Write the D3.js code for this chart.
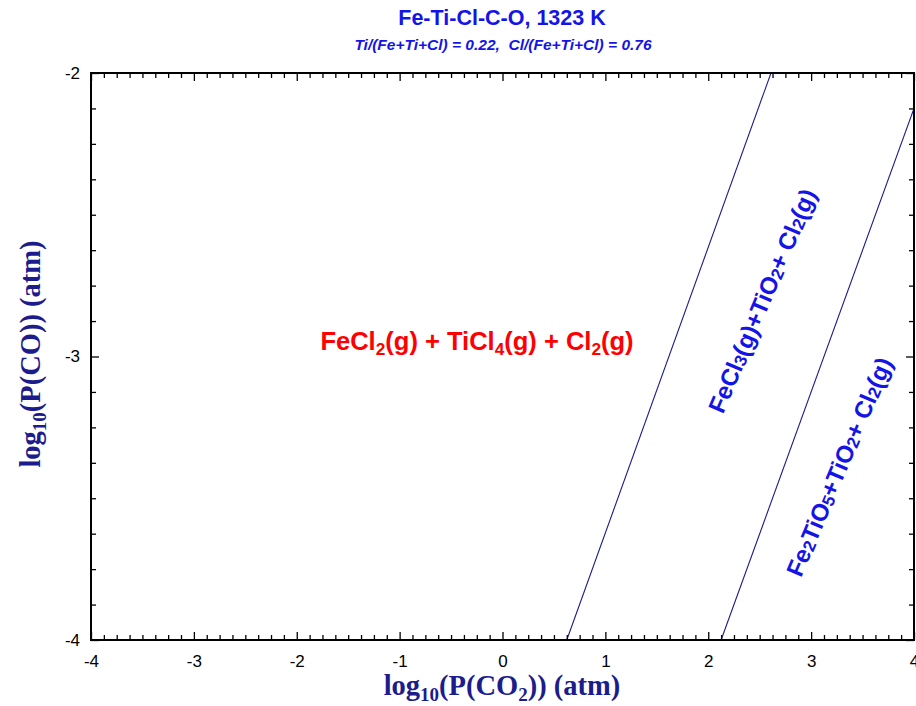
<!DOCTYPE html>
<html><head><meta charset="utf-8">
<script src="https://cdn.jsdelivr.net/npm/d3@7"></script>
<style>body{margin:0;background:#fff}svg{display:block}</style>
</head><body>
<script>
// ---- data ----
const xDomain = [-4, 4];
const yDomain = [-4, -2];
const xTickValues = [-4, -3, -2, -1, 0, 1, 2, 3, 4];
const yTickValues = [-4, -3, -2];
// phase boundaries (log P(CO2), log P(CO))
const boundary1 = [[0.625, -4], [2.61, -2]];
const boundary2 = [[2.125, -4], [4, -2.125]];
const titleText = "Fe-Ti-Cl-C-O, 1323 K";
const subtitleText = "Ti/(Fe+Ti+Cl) = 0.22,\u00A0 Cl/(Fe+Ti+Cl) = 0.76";

const W = 916, H = 706;
const m = {left: 91, right: 916 - 914, top: 73, bottom: 706 - 640};
const svg = d3.select("body").append("svg").attr("width", W).attr("height", H);
svg.append("rect").attr("width", W).attr("height", H).attr("fill", "#fff");

const x = d3.scaleLinear().domain(xDomain).range([m.left, W - m.right]);
const y = d3.scaleLinear().domain(yDomain).range([H - m.bottom, m.top]);

const minorX = d3.range(xDomain[0], xDomain[1] + 1e-9, 0.125);
const minorY = d3.range(yDomain[0], yDomain[1] + 1e-9, 0.125);
const isMajor = v => Math.abs(v - Math.round(v)) < 1e-9;
const fmt = d => String(d);

// clip
svg.append("clipPath").attr("id", "clip").append("rect")
  .attr("x", x(xDomain[0])).attr("y", y(yDomain[1]))
  .attr("width", x(xDomain[1]) - x(xDomain[0])).attr("height", y(yDomain[0]) - y(yDomain[1]));

const line = d3.line().x(d => x(d[0])).y(d => y(d[1]));
const g = svg.append("g").attr("clip-path", "url(#clip)");
[boundary1, boundary2].forEach(b => {
  g.append("path").attr("d", line(b)).attr("fill", "none").attr("stroke", "#1a1a8a").attr("stroke-width", 1.1);
});

const tickFont = "Liberation Sans, Arial, sans-serif";
const tickSize = 17;
// bottom
const axBm = svg.append("g").attr("transform", `translate(0,${y(yDomain[0])})`)
  .call(d3.axisBottom(x).tickValues(minorX).tickSize(0).tickFormat(""));
axBm.select(".domain").remove(); axBm.selectAll("text").remove();
axBm.selectAll(".tick").append("line").attr("y2", d => isMajor(d) ? -8 : -5).attr("stroke", "#000").attr("stroke-width", 1.3);
const axB = svg.append("g").attr("transform", `translate(0,${y(yDomain[0])})`)
  .call(d3.axisBottom(x).tickValues(xTickValues).tickSize(0).tickFormat(fmt));
axB.select(".domain").remove();
axB.selectAll(".tick text").attr("dy", 0).attr("y", 27).attr("font-family", tickFont).attr("font-size", tickSize).attr("fill", "#000");
// top
const axT = svg.append("g").attr("transform", `translate(0,${y(yDomain[1])})`)
  .call(d3.axisTop(x).tickValues(minorX).tickSize(0).tickFormat(""));
axT.select(".domain").remove(); axT.selectAll("text").remove();
axT.selectAll(".tick").append("line").attr("y2", d => isMajor(d) ? 8 : 5).attr("stroke", "#000").attr("stroke-width", 1.3);
// left
const axLm = svg.append("g").attr("transform", `translate(${x(xDomain[0])},0)`)
  .call(d3.axisLeft(y).tickValues(minorY).tickSize(0).tickFormat(""));
axLm.select(".domain").remove(); axLm.selectAll("text").remove();
axLm.selectAll(".tick").append("line").attr("x2", d => isMajor(d) ? 8 : 5).attr("stroke", "#000").attr("stroke-width", 1.3);
const axL = svg.append("g").attr("transform", `translate(${x(xDomain[0])},0)`)
  .call(d3.axisLeft(y).tickValues(yTickValues).tickSize(0).tickFormat(fmt));
axL.select(".domain").remove();
axL.selectAll(".tick text").attr("x", -11).attr("dy", "0.3em").attr("font-family", tickFont).attr("font-size", tickSize).attr("fill", "#000");
// right
const axR = svg.append("g").attr("transform", `translate(${x(xDomain[1])},0)`)
  .call(d3.axisRight(y).tickValues(minorY).tickSize(0).tickFormat(""));
axR.select(".domain").remove(); axR.selectAll("text").remove();
axR.selectAll(".tick").append("line").attr("x2", d => isMajor(d) ? -8 : -5).attr("stroke", "#000").attr("stroke-width", 1.3);

// frame
svg.append("rect").attr("x", x(xDomain[0])).attr("y", y(yDomain[1]))
  .attr("width", x(xDomain[1]) - x(xDomain[0])).attr("height", y(yDomain[0]) - y(yDomain[1]))
  .attr("fill", "none").attr("stroke", "#000").attr("stroke-width", 2);

// titles
svg.append("text").attr("x", 502).attr("y", 25).attr("text-anchor", "middle")
  .attr("font-family", "Liberation Sans, Arial, sans-serif").attr("font-weight", "bold").attr("font-size", 21.5)
  .attr("fill", "#1414e6").text(titleText);
svg.append("text").attr("x", 503).attr("y", 50).attr("text-anchor", "middle")
  .attr("font-family", "Liberation Sans, Arial, sans-serif").attr("font-weight", "bold").attr("font-style", "italic").attr("font-size", 15.5)
  .attr("fill", "#1414e6").text(subtitleText);

// axis titles
const axisColor = "#1c1c8c";
const xt = svg.append("text").attr("x", 502).attr("y", 695).attr("text-anchor", "middle")
  .attr("font-family", "Liberation Serif, Times New Roman, serif").attr("font-weight", "bold").attr("font-size", 28.5).attr("fill", axisColor);
xt.append("tspan").text("log");
xt.append("tspan").attr("font-size", 19).attr("dy", 6).text("10");
xt.append("tspan").attr("dy", -6).text("(P(CO");
xt.append("tspan").attr("font-size", 19).attr("dy", 6).text("2");
xt.append("tspan").attr("dy", -6).text(")) (atm)");

const yt = svg.append("text").attr("transform", "translate(40,354) rotate(-90)").attr("text-anchor", "middle")
  .attr("font-family", "Liberation Serif, Times New Roman, serif").attr("font-weight", "bold").attr("font-size", 28.5).attr("fill", axisColor);
yt.append("tspan").text("log");
yt.append("tspan").attr("font-size", 19).attr("dy", 6).text("10");
yt.append("tspan").attr("dy", -6).text("(P(CO)) (atm)");

// region labels
function richLabel(parts, opts) {
  const t = svg.append("text").attr("text-anchor", "middle")
    .attr("font-family", "Liberation Sans, Arial, sans-serif").attr("font-weight", "bold")
    .attr("font-size", opts.size).attr("fill", opts.color)
    .attr("transform", `translate(${opts.x},${opts.y}) rotate(${opts.rot || 0})`);
  let lowered = false;
  parts.forEach(p => {
    if (p.sub) {
      t.append("tspan").attr("font-size", opts.size * opts.subScale).attr("dy", lowered ? 0 : opts.subDy).text(p.sub);
      lowered = true;
    } else {
      t.append("tspan").attr("dy", lowered ? -opts.subDy : 0).text(p.t);
      lowered = false;
    }
  });
  return t;
}
richLabel([{t:"FeCl"},{sub:"2"},{t:"(g) + TiCl"},{sub:"4"},{t:"(g) + Cl"},{sub:"2"},{t:"(g)"}],
  {x: 477, y: 350, size: 25.5, color: "#ff0000", subScale: 0.68, subDy: 5});
richLabel([{t:"FeCl"},{sub:"3"},{t:"(g)+TiO"},{sub:"2"},{t:"+ Cl"},{sub:"2"},{t:"(g)"}],
  {x: 770, y: 304, size: 24, color: "#1414e6", subScale: 0.72, subDy: 1, rot: -67});
richLabel([{t:"Fe"},{sub:"2"},{t:"TiO"},{sub:"5"},{t:"+TiO"},{sub:"2"},{t:"+ Cl"},{sub:"2"},{t:"(g)"}],
  {x: 847, y: 470, size: 24, color: "#1414e6", subScale: 0.72, subDy: 1, rot: -67});
</script>
</body></html>
